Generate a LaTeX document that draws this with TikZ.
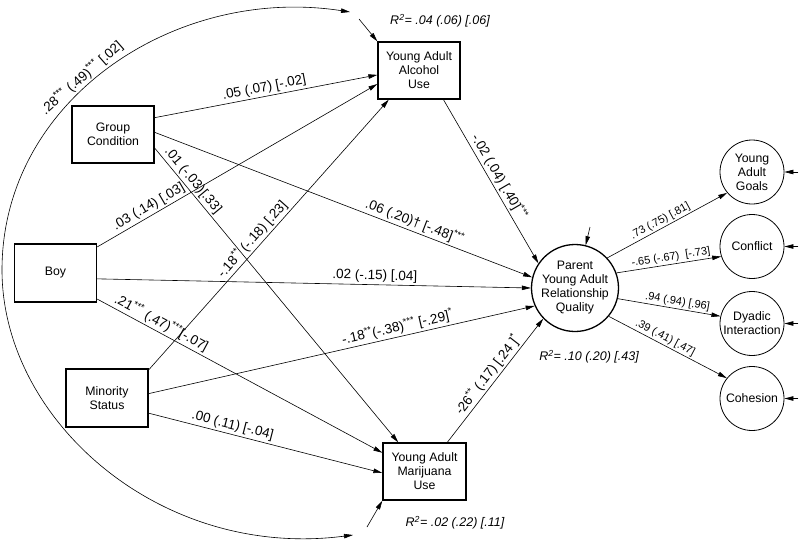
\documentclass[tikz,border=0pt]{standalone}
\usepackage{fontspec}
\setmainfont{Liberation Sans}
\usetikzlibrary{arrows.meta,positioning}

\begin{document}
\begin{tikzpicture}[x=1pt,y=-1pt,
    obs/.style={draw, line width=1.3pt, minimum width=82pt, minimum height=57pt, inner sep=1pt, align=center, font=\fontsize{12.3}{14}\selectfont},
    lat/.style={draw, circle, line width=0.8pt, minimum size=64pt, inner sep=0pt, align=center, font=\fontsize{12.3}{14}\selectfont},
    arr/.style={-{Triangle[length=9pt,width=4.5pt]}, line width=0.6pt},
    coef/.style={font=\fontsize{13.5}{15}\selectfont, sloped, above, inner sep=2pt},
    ind/.style={font=\fontsize{11}{13}\selectfont, sloped, above, inner sep=1.5pt},
    rsq/.style={font=\fontsize{12.5}{14}\selectfont\itshape}]

    \useasboundingbox (0,0) rectangle (800,546);

    % observed predictors
    \node[obs] (grp) at (113,134.5) {Group\\Condition};
    \node[obs, minimum height=58pt] (boy) at (55.5,273) {Boy};
    \node[obs, minimum height=58pt] (min) at (107,398) {Minority\\Status};

    % substance use
    \node[obs] (alc) at (419,70.5) {Young Adult\\Alcohol\\Use};
    \node[obs, minimum width=83pt] (mar) at (424.5,471.5) {Young Adult\\Marijuana\\Use};

    % latent outcome and indicators
    \node[lat, line width=1.3pt, minimum size=87pt] (prq) at (575,288) {Parent\\Young Adult\\Relationship\\Quality};
    \node[lat] (goal) at (752,172) {Young\\Adult\\Goals};
    \node[lat] (conf) at (752,246.5) {Conflict};
    \node[lat] (dyad) at (752,323.5) {Dyadic\\Interaction};
    \node[lat] (coh) at (752,398.5) {Cohesion};

    % R squared
    \node[rsq] (r2alc) at (440,21) {R\textsuperscript{2}= .04 (.06) [.06]};
    \node[rsq] (r2prq) at (589,357) {R\textsuperscript{2}= .10 (.20) [.43]};
    \node[rsq] (r2mar) at (455,523) {R\textsuperscript{2}= .02 (.22) [.11]};

    % residuals
    \coordinate (ealc) at (359,19);
    \coordinate (emar) at (367,527);
    \coordinate (eprq) at (590,227);
    \draw[arr] (ealc) -- (alc.north west);
    \draw[arr] (emar) -- (mar.south west);
    \draw[arr] (eprq) -- (prq.76);
    \foreach \n in {goal,conf,dyad,coh}
        \draw[arr] ([xshift=14pt]\n.east) -- (\n.east);

    % residual covariance
    \coordinate (calc) at (350,12);
    \coordinate (cmar) at (353,535);
    \draw[{Triangle[length=9pt,width=4.5pt]}-{Triangle[length=9pt,width=4.5pt]}, line width=0.6pt]
        (calc) .. controls (175,-15) and (2,100) .. node[coef, pos=.56] {.28\textsuperscript{***} (.49)\textsuperscript{***} [.02]} (2,270)
        .. controls (2,420) and (160,560) .. (cmar);

    % paths to alcohol use
    \draw[arr] (grp.22) -- node[coef] {.05 (.07) [-.02]} (alc.186);
    \draw[arr] (boy.32) -- node[coef, pos=.2] {.03 (.14) [.03]} (alc.198);
    \draw[arr] (min.34) -- node[coef, pos=.46] {-.18\textsuperscript{**} (-.18) [.23]} (alc.224);

    % paths to marijuana use
    \draw[arr] (grp.-18) -- node[coef, pos=.13] {.01 (-.03)[.33]} (mar.132);
    \draw[arr] (boy.-32) -- node[coef, pos=.21] {.21\textsuperscript{***} (.47)\textsuperscript{***}[-.07]} (mar.156);
    \draw[arr] (min.-20) -- node[coef, pos=.35] {.00 (.11) [-.04]} (mar.182);

    % paths to relationship quality
    \draw[arr] (grp.3) -- node[coef, pos=.68] {.06 (.20)\textdagger{} [-.48]\textsuperscript{***}} (prq.166);
    \draw[arr] (boy.-8) -- node[coef, pos=.64] {.02 (-.15) [.04]} (prq.180);
    \draw[arr] (min.6) -- node[coef, pos=.65] {-.18\textsuperscript{**}(-.38)\textsuperscript{***} [-.29]\textsuperscript{*}} (prq.204);
    \draw[arr] (alc.-50) -- node[coef] {-.02 (.04) [.40]\textsuperscript{***}} (prq.146);
    \draw[arr] (mar.52) -- node[coef] {-26\textsuperscript{**} (.17) [.24 ]\textsuperscript{*}} (prq.224);

    % loadings
    \draw[arr] (prq.43) -- node[ind, pos=.47] {.73 (.75) [.81]} (goal.220);
    \draw[arr] (prq.20) -- node[ind, pos=.53] {-.65 (-.67)\ \ [-.73]} (conf.198);
    \draw[arr] (prq.-14) -- node[ind, pos=.57] {.94 (.94) [.96]} (dyad.167);
    \draw[arr] (prq.-40) -- node[ind, pos=.45] {.39 (.41) [.47]} (coh.141);
\end{tikzpicture}
\end{document}
